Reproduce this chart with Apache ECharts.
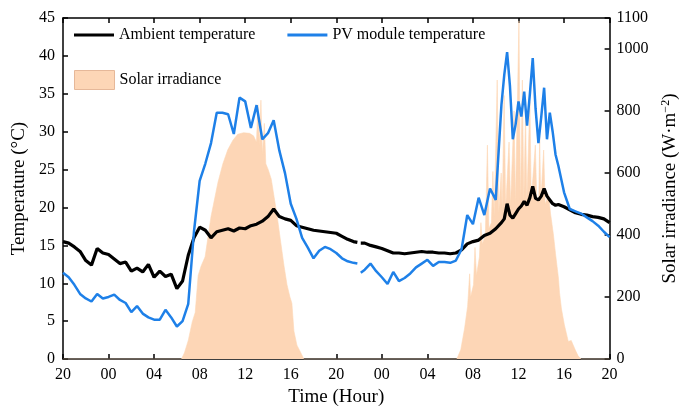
<!DOCTYPE html>
<html>
<head>
<meta charset="utf-8">
<script src="https://cdn.jsdelivr.net/npm/echarts@6/dist/echarts.min.js"></script>
<style>
html,body{margin:0;padding:0;background:#fff;}
#chart{width:688px;height:412px;}
</style>
</head>
<body>
<div id="chart"></div>
<script>
// x axis: hours since 20:00 of day 1, tick labels every 4 h
var xLabels = ['20','00','04','08','12','16','20','00','04','08','12','16','20'];

// temperature read every 30 min (every 15 min around noon of day 2),
// with a short logging gap near 22:00 of day 2
var tempHours = [];
var h = 0;
while (h <= 48) {
	tempHours.push(h);
	h += (h >= 38.5 && h < 43.5) ? 0.25 : 0.5;
}
tempHours.splice(52, 1, 25.85, 26.0, 26.15);

var ambientTemp = [
	15.5,15.3,14.8,14.2,13.0,12.4,14.6,14.0,13.8,13.2,
	12.6,12.8,11.6,12.0,11.5,12.5,10.8,11.6,10.9,11.2,
	9.3,10.3,13.7,16.0,17.4,17.0,16.0,16.8,17.0,17.2,
	16.9,17.3,17.2,17.6,17.8,18.2,18.8,19.8,18.8,18.5,
	18.3,17.6,17.4,17.2,17.0,16.9,16.8,16.7,16.6,16.2,
	15.8,15.5,15.4,null,15.3,15.3,15.0,14.8,14.6,14.3,14.0,14.0,
	13.9,14.0,14.1,14.2,14.1,14.1,14.0,14.0,13.9,14.0,
	14.4,15.2,15.5,15.7,16.3,16.6,17.2,
	18.0,18.5,20.5,19.0,18.6,19.2,19.8,20.2,20.8,20.3,21.3,
	22.8,21.2,21.0,21.5,22.5,21.5,21.0,20.5,20.3,20.4,
	20.1,19.7,19.3,19.1,19.0,18.8,18.7,18.5,18.0
];
var pvTemp = [
	11.4,10.8,9.8,8.6,8.0,7.6,8.6,8.0,8.2,8.5,
	7.8,7.4,6.2,7.0,6.0,5.5,5.2,5.2,6.5,5.5,
	4.3,5.0,7.3,16.8,23.5,25.8,28.5,32.5,32.5,32.3,
	29.7,34.5,34.0,30.5,33.5,29.0,29.8,31.5,27.5,24.5,
	20.5,18.5,16.0,14.7,13.3,14.3,14.8,14.5,14.0,13.3,
	12.9,12.7,12.6,null,11.4,11.8,12.6,11.6,10.8,9.9,11.5,10.3,
	10.7,11.3,12.1,12.6,13.1,12.3,12.8,12.8,12.7,13.0,
	14.5,19.0,17.8,21.3,19.0,22.5,21.0,
	33.5,37.5,40.5,36.0,29.0,31.0,34.0,32.0,35.3,30.8,35.0,
	39.7,33.0,28.5,32.0,35.8,29.0,32.5,30.0,27.0,25.5,
	22.0,19.8,19.5,19.2,18.7,18.2,17.6,16.8,16.1
];

// solar irradiance (W/m2), read at irregular times during daylight
var irrHours = [
	0,
	10.40,10.66,11.00,11.35,11.61,11.87,12.13,12.48,13.00,13.61,
	14.04,14.47,14.91,15.34,15.86,16.38,16.73,16.99,17.12,17.25,
	17.38,17.51,17.68,17.81,18.03,18.29,18.55,18.81,19.07,19.41,
	19.67,19.93,20.10,20.28,20.54,20.89,21.15,
	34.58,34.93,35.27,35.53,35.71,35.79,36.05,36.18,36.31,36.57,
	36.70,36.83,37.09,37.27,37.40,37.62,37.75,37.87,38.13,38.26,
	38.48,38.57,38.74,38.87,39.17,39.30,39.61,39.73,40.04,40.17,
	40.34,40.47,40.62,40.73,41.00,41.12,41.48,41.60,41.78,41.86,
	41.95,42.04,42.21,42.34,42.64,42.81,43.07,43.25,43.51,43.60,
	43.77,44.03,44.37,44.63,44.98,45.24,45.50,
	48
];
var irrValues = [
	0,
	0,20,60,120,150,270,300,330,460,570,
	630,675,705,725,730,728,720,700,820,690,
	835,660,760,630,610,580,520,460,390,300,
	240,200,180,90,45,20,0,
	0,30,100,170,275,200,240,360,270,330,
	440,370,400,690,420,440,605,460,900,470,
	600,480,850,485,700,495,800,500,1090,505,
	900,510,795,510,830,515,690,515,510,720,
	505,505,674,500,530,470,400,340,260,215,
	162,110,57,60,30,10,0,
	0
];

function pairs(xs, ys) {
	var out = [];
	for (var i = 0; i < xs.length; i++) {
		out.push([xs[i], ys[i]]);
	}
	return out;
}

var FONT = 'Liberation Serif';
var IRR_COLOR = '#fdd6b6';
var PV_COLOR = '#1e80e8';
var axisBase = {
	axisLine: {onZero: false, lineStyle: {color: '#000', width: 1.5}},
	axisTick: {inside: true, length: 5, lineStyle: {color: '#000', width: 1.5}},
	splitLine: {show: false}
};

var chart = echarts.init(document.getElementById('chart'));
var option = {
	animation: false,
	backgroundColor: '#fff',
	grid: {left: 63, right: 71, top: 18, bottom: 46},
	legend: [
		{
			data: [
				{name: 'Ambient temperature', icon: 'rect'},
				{name: 'PV module temperature', icon: 'rect'}
			],
			left: 74, top: 27, padding: 0,
			itemWidth: 40, itemHeight: 3, itemGap: 32,
			textStyle: {fontFamily: FONT, fontSize: 16, color: '#000'}
		},
		{
			data: ['Solar irradiance'],
			left: 74, top: 70, padding: 0,
			icon: 'rect',
			itemWidth: 40, itemHeight: 19,
			itemStyle: {color: IRR_COLOR, borderColor: '#e6b899', borderWidth: 1},
			textStyle: {fontFamily: FONT, fontSize: 16, color: '#000'}
		}
	],
	xAxis: [
		Object.assign({}, axisBase, {
			type: 'value', position: 'bottom', min: 0, max: 48, interval: 4,
			axisLabel: {
				color: '#000', fontFamily: FONT, fontSize: 16, margin: 8,
				formatter: function(v) { return xLabels[Math.round(v / 4)]; }
			},
			name: 'Time (Hour)', nameLocation: 'middle', nameGap: 26,
			nameTextStyle: {color: '#000', fontFamily: FONT, fontSize: 19}
		}),
		Object.assign({}, axisBase, {
			type: 'value', position: 'top', min: 0, max: 48, interval: 4,
			axisLabel: {show: false}
		})
	],
	yAxis: [
		Object.assign({}, axisBase, {
			type: 'value', position: 'left', min: 0, max: 45, interval: 5,
			axisLabel: {color: '#000', fontFamily: FONT, fontSize: 16, margin: 8},
			name: 'Temperature (°C)', nameLocation: 'middle', nameRotate: 90, nameGap: 30,
			nameTextStyle: {color: '#000', fontFamily: FONT, fontSize: 19}
		}),
		Object.assign({}, axisBase, {
			type: 'value', position: 'right', min: 0, max: 1100, interval: 200,
			axisLabel: {
				color: '#000', fontFamily: FONT, fontSize: 16, margin: 7,
				formatter: function(v) { return String(v); }
			},
			name: '{a|Solar irradiance (W·m}{s|−2}{a|)}', nameLocation: 'middle', nameRotate: 90, nameGap: 42,
			nameTextStyle: {
				color: '#000', fontFamily: FONT, fontSize: 19,
				rich: {
					a: {color: '#000', fontFamily: FONT, fontSize: 19, lineHeight: 22},
					s: {color: '#000', fontFamily: FONT, fontSize: 12, lineHeight: 22, verticalAlign: 'top'}
				}
			}
		})
	],
	series: [
		{
			name: 'Solar irradiance',
			type: 'line',
			xAxisIndex: 0, yAxisIndex: 1,
			symbol: 'none',
			z: 1,
			data: pairs(irrHours, irrValues),
			lineStyle: {width: 0.6, color: IRR_COLOR},
			itemStyle: {color: IRR_COLOR},
			areaStyle: {color: IRR_COLOR, opacity: 1}
		},
		{
			name: 'Ambient temperature',
			type: 'line',
			xAxisIndex: 0, yAxisIndex: 0,
			symbol: 'none',
			z: 3,
			data: pairs(tempHours, ambientTemp),
			lineStyle: {width: 3.2, color: '#000'},
			itemStyle: {color: '#000'}
		},
		{
			name: 'PV module temperature',
			type: 'line',
			xAxisIndex: 0, yAxisIndex: 0,
			symbol: 'none',
			z: 4,
			data: pairs(tempHours, pvTemp),
			lineStyle: {width: 2.5, color: PV_COLOR},
			itemStyle: {color: PV_COLOR}
		}
	]
};
chart.setOption(option);
</script>
</body>
</html>
